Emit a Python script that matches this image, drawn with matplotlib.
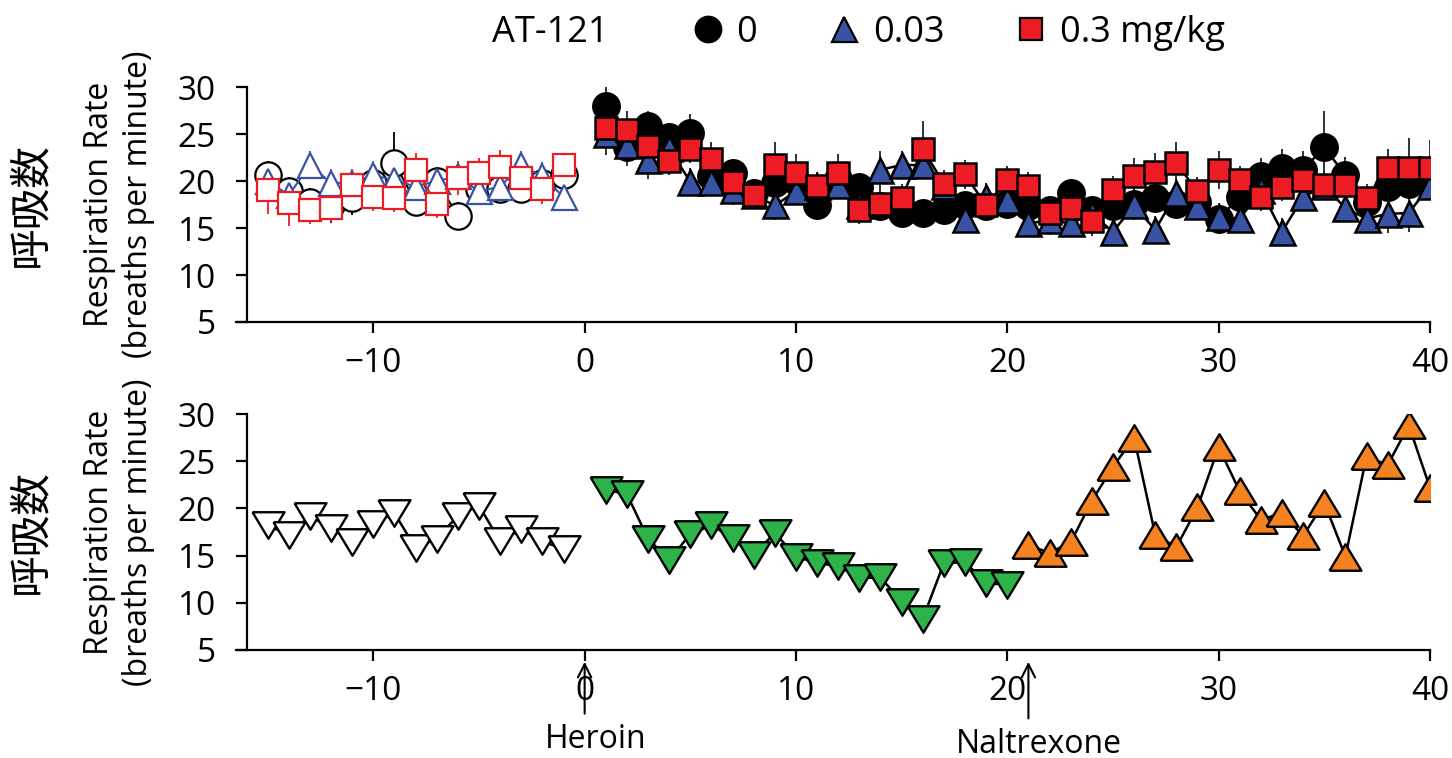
import numpy as np
import matplotlib
matplotlib.use('Agg')
import matplotlib.pyplot as plt
from matplotlib.lines import Line2D

plt.rcParams['font.family'] = ['Open Sans', 'Noto Sans CJK JP', 'DejaVu Sans']

# ----------- DATA -----------
# baseline days (before heroin) and treatment days
days_base = np.arange(-15, 0)
days_post = np.arange(1, 41)

# top panel: AT-121 doses, baseline
veh_base = [20.6, 18.9, 17.8, 17.5, 18.2, 19.8, 21.9, 17.8, 20.0, 16.3, 19.2, 19.2, 19.2, 19.8, 20.6]
veh_base_err = [1.5, 1.5, 1.5, 2.0, 1.8, 1.5, 3.3, 1.5, 1.5, 1.5, 1.5, 1.5, 1.5, 1.5, 1.5]
low_base = [20.0, 18.5, 21.7, 19.8, 19.8, 20.6, 20.1, 19.4, 20.0, 20.5, 18.9, 19.4, 21.7, 20.5, 18.3]
low_base_err = [1.5, 1.5, 1.5, 1.5, 1.5, 1.5, 1.5, 1.5, 1.5, 1.5, 1.5, 1.5, 1.5, 1.5, 1.5]
high_base = [19.0, 17.7, 16.9, 17.1, 19.6, 18.3, 18.2, 21.2, 17.6, 20.3, 20.9, 21.5, 20.3, 19.1, 21.7]
high_base_err = [2.5, 2.5, 1.5, 1.5, 1.2, 1.5, 1.5, 1.8, 1.5, 1.8, 1.5, 1.8, 1.5, 1.5, 1.0]

# top panel: after heroin
veh_post = [28.0, 23.6, 25.9, 24.7, 25.1, 20.5, 20.8, 18.7, 19.8, 20.0,
            17.4, 20.2, 19.4, 17.3, 16.6, 16.6, 16.9, 17.4, 17.3, 17.6,
            17.3, 16.9, 18.7, 16.9, 17.3, 17.6, 18.2, 17.6, 17.8, 16.0,
            18.3, 20.5, 21.4, 21.2, 23.6, 20.6, 17.8, 19.4, 19.7, 20.1]
veh_post_err = [2.0, 2.0, 1.5, 1.5, 2.0, 1.5, 1.5, 1.5, 2.0, 1.5,
                1.5, 1.5, 1.5, 1.5, 1.5, 1.5, 1.5, 1.5, 1.5, 1.5,
                1.5, 1.5, 1.5, 1.5, 1.5, 1.5, 1.5, 1.5, 1.5, 1.5,
                1.5, 2.0, 2.0, 2.0, 3.8, 2.0, 1.5, 1.5, 1.5, 1.5]
low_post = [25.0, 23.8, 22.2, 23.5, 19.9, 19.9, 19.0, 18.5, 17.4, 18.9,
            19.5, 19.6, 17.5, 21.2, 21.7, 21.7, 19.5, 16.0, 18.3, 18.0,
            15.5, 15.8, 15.5, 16.5, 14.6, 17.4, 14.8, 18.7, 17.3, 16.2,
            16.0, 19.0, 14.6, 18.3, 19.5, 17.1, 16.0, 16.5, 16.6, 19.5]
low_post_err = [1.5, 1.5, 2.0, 2.0, 1.5, 1.5, 1.5, 1.5, 1.5, 1.5,
                1.5, 1.5, 1.5, 2.0, 1.5, 1.5, 1.5, 1.5, 1.5, 1.5,
                1.5, 1.5, 1.5, 1.5, 1.5, 1.5, 1.5, 1.5, 1.5, 1.5,
                1.5, 1.5, 1.5, 1.5, 1.5, 1.5, 1.5, 2.0, 2.0, 1.5]
high_post = [25.6, 25.4, 23.7, 22.1, 23.4, 22.3, 19.9, 18.5, 21.7, 20.9,
             19.5, 20.9, 16.9, 17.6, 18.2, 23.4, 19.7, 20.7, 17.4, 20.1,
             19.5, 16.6, 17.1, 15.7, 19.0, 20.5, 21.0, 21.9, 18.9, 21.2,
             20.1, 18.3, 19.4, 20.1, 19.6, 19.6, 18.2, 21.4, 21.4, 21.4]
high_post_err = [2.8, 2.0, 1.5, 1.5, 1.5, 1.8, 2.0, 1.5, 2.5, 2.0,
                 1.5, 2.0, 1.5, 1.5, 1.5, 3.0, 1.5, 1.5, 1.5, 1.5,
                 1.5, 1.5, 1.5, 1.5, 1.5, 2.0, 2.0, 2.2, 1.5, 2.0,
                 1.5, 1.5, 1.5, 1.5, 1.5, 1.5, 1.5, 2.0, 3.2, 3.0]

# bottom panel: single animal trace
base_single = [18.2, 17.2, 19.2, 17.9, 16.4, 18.4, 19.5, 15.8, 16.8, 19.2, 20.3, 16.5, 17.8, 16.5, 15.7]
days_heroin = np.arange(1, 21)
heroin_single = [22.0, 21.5, 16.8, 14.5, 17.3, 18.2, 16.9, 15.1, 17.4, 14.9,
                 14.2, 13.9, 12.6, 12.7, 10.1, 8.3, 14.2, 14.3, 12.1, 11.9]
days_nal = np.arange(21, 41)
nal_single = [16.1, 15.3, 16.4, 20.8, 24.4, 27.5, 17.2, 15.9, 20.1, 26.5,
              21.8, 18.8, 19.5, 17.1, 20.6, 14.9, 25.5, 24.6, 28.8, 22.2]

dose_labels = ['0', '0.03', '0.3 mg/kg']

BLUE = '#3853a4'
RED = '#ed1c24'
GREEN = '#2db34a'
ORANGE = '#f58220'

fig = plt.figure(figsize=(14.52, 7.58), dpi=100)
ax1 = fig.add_axes([0.1625, 0.5752, 0.8223, 0.310])
ax2 = fig.add_axes([0.1625, 0.1425, 0.8223, 0.3113])

# triangle markers for bottom panel (a bit wider than tall)
tri_down = [(-1, 0.83), (1, 0.83), (0, -0.83), (-1, 0.83)]
tri_up = [(-1, -0.83), (1, -0.83), (0, 0.83), (-1, -0.83)]

# ----------- TOP PANEL -----------
# baseline: open markers
for y, e, mk, c, ms in [(veh_base, veh_base_err, 'o', 'black', 19),
                        (low_base, low_base_err, '^', BLUE, 18),
                        (high_base, high_base_err, 's', RED, 16)]:
    ax1.errorbar(days_base, y, yerr=e, fmt='none', ecolor=c, elinewidth=1.3, capsize=0, zorder=2)
    ax1.plot(days_base, y, color=c, lw=1.5, marker=mk, ms=ms, mfc='white', mec=c, mew=1.6, zorder=3)

# after heroin: filled markers
for y, e, mk, c, ms in [(veh_post, veh_post_err, 'o', 'black', 19),
                        (low_post, low_post_err, '^', BLUE, 18),
                        (high_post, high_post_err, 's', RED, 16)]:
    ax1.errorbar(days_post, y, yerr=e, fmt='none', ecolor='#222222', elinewidth=1.3, capsize=0, zorder=4)
    ax1.plot(days_post, y, color='black', lw=1.8, marker=mk, ms=ms, mfc=c, mec='black', mew=1.8, zorder=5)

# ----------- BOTTOM PANEL -----------
ax2.plot(days_base, base_single, color='black', lw=1.8, marker=tri_down, ms=23,
         mfc='white', mec='black', mew=1.7)
ax2.plot(days_heroin, heroin_single, color='black', lw=1.8, marker=tri_down, ms=23,
         mfc=GREEN, mec='black', mew=1.7)
ax2.plot(days_nal, nal_single, color='black', lw=1.8, marker=tri_up, ms=23,
         mfc=ORANGE, mec='black', mew=1.7)

for ax in (ax1, ax2):
    ax.set_xlim(-16.5, 40)
    ax.set_ylim(5, 30)
    ax.set_xticks([-10, 0, 10, 20, 30, 40])
    ax.set_yticks([5, 10, 15, 20, 25, 30])
    ax.spines['top'].set_visible(False)
    ax.spines['right'].set_visible(False)
    ax.spines['left'].set_position(('data', -16.0))
    ax.spines['left'].set_linewidth(1.6)
    ax.spines['bottom'].set_linewidth(1.6)
    ax.tick_params(axis='both', direction='out', length=8, width=1.6, labelsize=24)
    ax.tick_params(axis='x', pad=10)
    ax.tick_params(axis='y', pad=14)
    ax.set_ylabel('Respiration Rate\n(breaths per minute)', fontsize=23, labelpad=16, linespacing=1.25)
    ax.patch.set_alpha(0)
    ax.text(-0.172, 0.5, '呼吸数', transform=ax.transAxes, rotation=90, ha='center', va='center',
            fontsize=30, family=['Noto Sans CJK JP', 'DejaVu Sans'])

# arrows for heroin and naltrexone
arrow_style = dict(arrowstyle='->', lw=1.5, color='black', shrinkA=0, shrinkB=0, mutation_scale=24)
for xpos, tail in [(0, -0.27), (21, -0.29)]:
    ax2.annotate('', xy=(xpos, -0.05), xycoords=('data', 'axes fraction'),
                 xytext=(xpos, tail), textcoords=('data', 'axes fraction'), arrowprops=arrow_style)
ax2.text(0.5, -0.31, 'Heroin', transform=ax2.get_xaxis_transform(), ha='center', va='top', fontsize=23)
ax2.text(21.5, -0.33, 'Naltrexone', transform=ax2.get_xaxis_transform(), ha='center', va='top', fontsize=23)

# ----------- LEGEND -----------
fig.text(0.379, 0.957, 'AT-121', ha='center', va='center', fontsize=26)
handles = [Line2D([], [], ls='none', marker='o', ms=19, mfc='black', mec='black'),
           Line2D([], [], ls='none', marker='^', ms=18, mfc=BLUE, mec='black', mew=1.6),
           Line2D([], [], ls='none', marker='s', ms=16, mfc=RED, mec='black', mew=1.6)]
fig.legend(handles, dose_labels, loc='center', bbox_to_anchor=(0.658, 0.957), ncol=3,
           frameon=False, fontsize=26, handletextpad=0.2, columnspacing=1.8, handlelength=1.2)

fig.savefig('out.png', dpi=100)
